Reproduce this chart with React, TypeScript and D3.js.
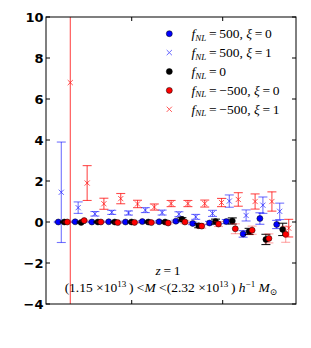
import React from "react";
import * as d3 from "d3";

// bin centres in k (log axis)
const kBins = [0.00156, 0.00239, 0.00365, 0.00559, 0.00855, 0.01308, 0.02001, 0.0306, 0.04683, 0.07161, 0.1095, 0.1676, 0.2563, 0.3921];

const blueDot = [0, 0.01, 0, 0.01, 0, 0.02, 0.01, 0.04, -0.07, -0.05, 0.02, -0.58, 0.17, -0.12];
const blueDotErr = [0.03, 0.03, 0.03, 0.03, 0.04, 0.04, 0.05, 0.05, 0.06, 0.08, 0.1, 0.16, 0.28, 0.2];

const blueX = [1.45, 0.7, 0.4, 0.47, 0.44, 0.58, 0.46, 0.38, 0.25, 0.42, 1.02, 0.32, 0.82, 0.52];
const blueXErr = [2.45, 0.28, 0.11, 0.1, 0.1, 0.12, 0.12, 0.12, 0.12, 0.15, 0.3, 0.27, 0.4, 0.4];

const blackDot = [0, -0.02, 0, 0, 0, 0, 0, 0.13, -0.18, 0.02, 0.05, -0.46, -0.85, -0.36];
const blackDotErr = [0.03, 0.03, 0.03, 0.03, 0.04, 0.04, 0.05, 0.08, 0.1, 0.12, 0.15, 0.15, 0.25, 0.3];

const redDot = [0, 0.07, 0, -0.03, -0.02, -0.03, -0.05, 0, -0.2, -0.1, -0.33, -0.4, -0.8, -0.6];
const redDotErr = [0.03, 0.03, 0.03, 0.03, 0.04, 0.04, 0.05, 0.08, 0.1, 0.12, 0.24, 0.2, 0.22, 0.39];

const redX = [6.8, 1.9, 0.89, 1.14, 0.88, 0.73, 0.9, 0.9, 0.9, 0.95, 1.1, 1.0, 1.0, -0.3];
const redXErr = [14, 0.85, 0.27, 0.25, 0.18, 0.15, 0.15, 0.15, 0.17, 0.2, 0.33, 0.37, 0.47, 0.43];

const yTicks = [-4, -2, 0, 2, 4, 6, 8, 10];
const xTicks = [0.01, 0.1];

const W = 311, H = 348;
const L = 46, R = 296, T = 17, B = 304;

const x = d3.scaleLog().domain([0.001143, 0.6391]).range([L, R]);
const y = d3.scaleLinear().domain([-4, 10]).range([B, T]);

type Series = {
  vals: number[]; errs: number[]; shift: number; marker: "dot" | "x";
  fill: string; bar: string; barOpacity: number; markerOpacity: number;
  fnl: string; xi: string | null;
};

const series: Series[] = [
  { vals: blueDot, errs: blueDotErr, shift: 1, marker: "dot", fill: "#0000ff", bar: "#0000ff", barOpacity: 0.6, markerOpacity: 1, fnl: "500", xi: "0" },
  { vals: blueX, errs: blueXErr, shift: 1.079, marker: "x", fill: "#0000ff", bar: "#0000ff", barOpacity: 0.55, markerOpacity: 0.6, fnl: "500", xi: "1" },
  { vals: blackDot, errs: blackDotErr, shift: 1.164, marker: "dot", fill: "#000000", bar: "#000000", barOpacity: 0.9, markerOpacity: 1, fnl: "0", xi: null },
  { vals: redDot, errs: redDotErr, shift: 1.256, marker: "dot", fill: "#ff0000", bar: "#ff0000", barOpacity: 0.35, markerOpacity: 1, fnl: "\u2212500", xi: "0" },
  { vals: redX, errs: redXErr, shift: 1.355, marker: "x", fill: "#ff0000", bar: "#ff0000", barOpacity: 0.7, markerOpacity: 0.65, fnl: "\u2212500", xi: "1" },
];

function Marker({ cx, cy, s }: { cx: number; cy: number; s: Series }) {
  if (s.marker === "dot") {
    return <circle cx={cx} cy={cy} r={3} fill={s.fill} stroke="#000" strokeWidth={0.5} opacity={s.markerOpacity} />;
  }
  const h = 2.6;
  return (
    <g stroke={s.fill} strokeWidth={1} opacity={s.markerOpacity}>
      <line x1={cx - h} y1={cy - h} x2={cx + h} y2={cy + h} />
      <line x1={cx - h} y1={cy + h} x2={cx + h} y2={cy - h} />
    </g>
  );
}

const EQ = "\u2009=\u2009";

export default function App() {
  const serif = "'Liberation Serif', 'DejaVu Serif', serif";
  const cap = 4.5;
  return (
    <svg width={W} height={H} style={{ position: "absolute", left: 0, top: 0, background: "#fff" }}>
      <defs>
        <clipPath id="plot"><rect x={L} y={T} width={R - L} height={B - T} /></clipPath>
      </defs>
      <g clipPath="url(#plot)">
        {series.map((s, si) => (
          <g key={si}>
            {s.vals.map((v, i) => {
              const cx = x(kBins[i] * s.shift);
              const y1 = y(v + s.errs[i]);
              const y2 = y(v - s.errs[i]);
              return (
                <g key={i}>
                  <g stroke={s.bar} strokeOpacity={s.barOpacity} strokeWidth={1.1}>
                    <line x1={cx} x2={cx} y1={y1} y2={y2} />
                    <line x1={cx - cap} x2={cx + cap} y1={y1} y2={y1} />
                    <line x1={cx - cap} x2={cx + cap} y1={y2} y2={y2} />
                  </g>
                  <Marker cx={cx} cy={y(v)} s={s} />
                </g>
              );
            })}
          </g>
        ))}
      </g>
      {/* frame */}
      <rect x={L} y={T} width={R - L} height={B - T} fill="none" stroke="#000" strokeWidth={1} />
      {yTicks.map((t) => (
        <g key={t}>
          <line x1={L} x2={L + 4} y1={y(t)} y2={y(t)} stroke="#000" />
          <line x1={R - 4} x2={R} y1={y(t)} y2={y(t)} stroke="#000" />
          <text x={L - 2.5} y={y(t)} dy="0.36em" textAnchor="end" fontFamily="'DejaVu Sans', sans-serif" fontWeight="bold" fontSize={13}>
            {t < 0 ? "\u2212" + Math.abs(t) : t}
          </text>
        </g>
      ))}
      {xTicks.map((t) => (
        <g key={t}>
          <line x1={x(t)} x2={x(t)} y1={B} y2={B - 4} stroke="#000" />
          <line x1={x(t)} x2={x(t)} y1={T} y2={T + 4} stroke="#000" />
        </g>
      ))}
      {/* legend */}
      {series.map((s, i) => {
        const ly = 33.7 + i * 18.9;
        return (
          <g key={i}>
            <Marker cx={169.3} cy={ly} s={s} />
            <text x={191.5} y={ly + 4.5} fontFamily={serif} fontSize={13.5}>
              <tspan fontStyle="italic">f</tspan>
              <tspan fontStyle="italic" fontSize={9} dy={2.5}>NL</tspan>
              <tspan dy={-2.5}>{EQ + s.fnl}</tspan>
              {s.xi !== null && (
                <>
                  <tspan>{", "}</tspan>
                  <tspan fontStyle="italic">ξ</tspan>
                  <tspan>{EQ + s.xi}</tspan>
                </>
              )}
            </text>
          </g>
        );
      })}
      {/* annotations */}
      <text x={168} y={275} textAnchor="middle" fontFamily={serif} fontSize={13.5}>
        <tspan fontStyle="italic">z</tspan>
        <tspan>{EQ + "1"}</tspan>
      </text>
      <text x={171} y={292.3} textAnchor="middle" fontFamily={serif} fontSize={13.5}>
        <tspan>{"(1.15 \u00d710"}</tspan>
        <tspan fontSize={9} dy={-5}>13</tspan>
        <tspan dy={5}>{"\u2009) <"}</tspan>
        <tspan fontStyle="italic">M</tspan>
        <tspan>{" <(2.32 \u00d710"}</tspan>
        <tspan fontSize={9} dy={-5}>13</tspan>
        <tspan dy={5}>{"\u2009) "}</tspan>
        <tspan fontStyle="italic">h</tspan>
        <tspan fontSize={9} dy={-5}>{"\u22121"}</tspan>
        <tspan dy={5}>{" "}</tspan>
        <tspan fontStyle="italic">M</tspan>
        <tspan fontSize={9} dy={3}>{"\u2299"}</tspan>
      </text>
    </svg>
  );
}
